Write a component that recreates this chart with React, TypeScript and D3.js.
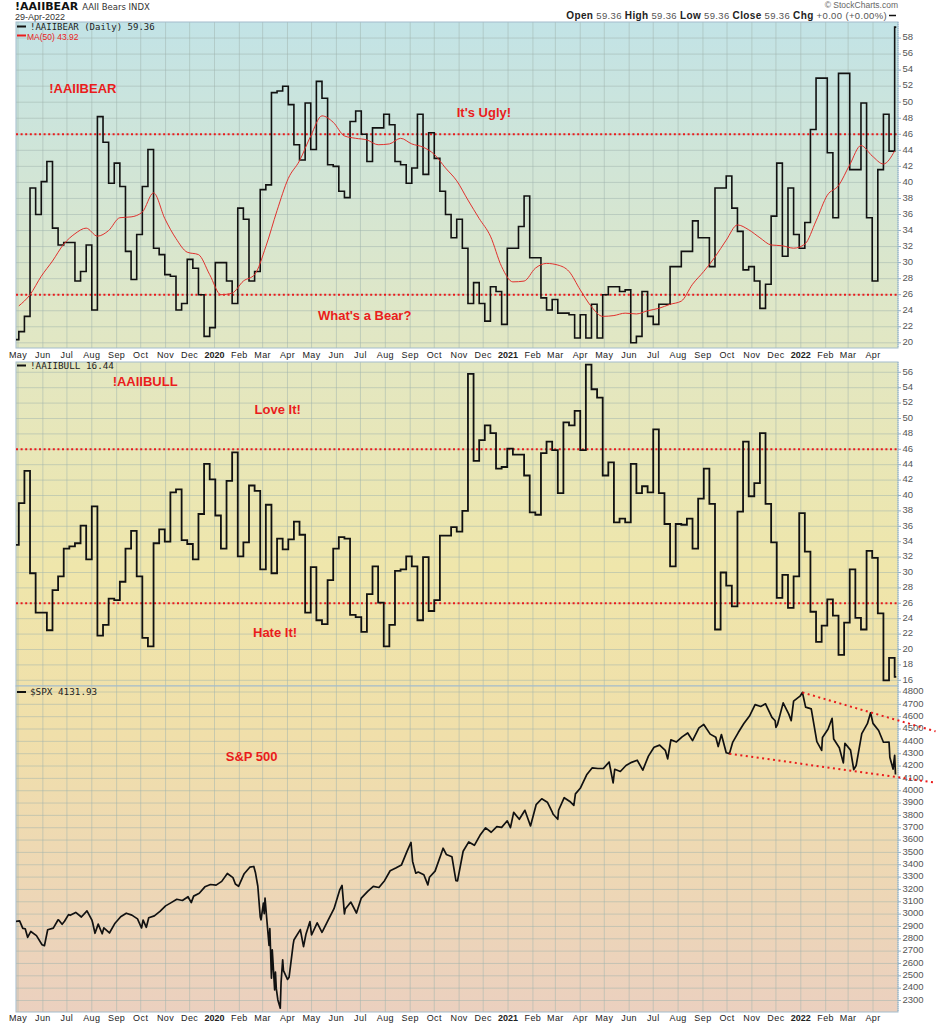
import React from "react";
import * as d3 from "d3";

// ---------- DATA ----------
// AAII weekly readings (Thursdays) starting 25-Apr-2019
const aaiiStart = "2019-04-25";
const bearValues = [20.4,
  21.4, 23.3, 39.3, 36, 40.1, 42.6, 34.3, 32.2, 32.5, 32.5, 27.7, 28.9, 32.2, 24.1, 48.2, 45, 39.9, 42.4, 39.5, 31.4,
  27.9, 33.5, 39.5, 44.1, 31.8, 31, 28.5, 28.3, 24.1, 24.9, 30.4, 29.3, 26, 20.8, 21.9, 30, 30, 27.7, 24.9, 36.8,
  35.4, 27.7, 28.9, 39.1, 39.7, 51.2, 51.4, 52, 49.7, 44.7, 42.8, 49.9, 44.1, 52.6, 50.5, 42.2, 42, 38.9, 38.1, 47.6,
  48.9, 46, 42.6, 46.8, 46.8, 48.5, 47.2, 42.6, 42.2, 39.9, 41.8, 48.5, 41, 46.2, 43, 38.9, 36, 33.1, 35.4, 31.8,
  24.9, 27.5, 24.9, 22.7, 27, 26.4, 22.3, 31.8, 31.8, 34.5, 38.3, 30.6, 30.6, 25.6, 24.1, 25.4, 23.7, 23.7, 23.5, 20.6,
  23.5, 20.6, 24.8, 20.6, 26, 27, 27, 26.4, 26.6, 20, 20.8, 26.4, 23.3, 22.3, 24.8, 24.8, 29.5, 29.5, 31.4, 31.4,
  35.2, 33.1, 33.1, 29.5, 39.3, 39.3, 40.8, 36.8, 33.9, 29.1, 29.5, 27.7, 24.3, 27.3, 35.8, 42.4, 30.8, 39.3, 33.5, 31.8,
  35, 46.6, 53, 53, 43.7, 35.6, 53.6, 53.6, 41.6, 41.6, 49.9, 35.6, 27.7, 41.6, 48.5, 43.9, 59.36];

const bullValues = [33.6,
  39, 43.2, 29.9, 24.8, 24.8, 22.5, 27.7, 29.5, 33.1, 33.4, 33.8, 36.1, 31.7, 38.6, 21.8, 23.2, 26.6, 26.4, 28.8, 33.1,
  35.4, 29.5, 21.5, 20.4, 33.8, 35.6, 34, 40.4, 40.8, 34.2, 33.7, 31.7, 37.6, 44.1, 42.1, 37.4, 33.1, 41.9, 45.6, 32.1,
  33.9, 41.3, 40.6, 30.4, 38.8, 29.9, 34.4, 33, 34.3, 36.6, 34.9, 24.8, 30.7, 23.8, 23.3, 29, 33.1, 34.6, 34.4, 24.5,
  24.2, 22.3, 27.2, 30.8, 26.1, 20.4, 23.2, 30.2, 30.4, 32.1, 30.8, 23.8, 32, 25, 26.4, 34.8, 34.8, 35.9, 35.3, 38,
  55.8, 44.5, 47.2, 49.1, 48.1, 43.5, 43.7, 46.1, 45.3, 45.3, 42.6, 37.8, 37.5, 45.5, 47, 45.9, 40.3, 49.5, 49.1, 51,
  45.9, 57, 53.8, 52.7, 42.6, 44.3, 36.5, 37, 36.5, 44.1, 40.3, 41.2, 40.4, 48.6, 40.3, 36.3, 30.8, 36.3, 36.2, 37,
  33.1, 39.6, 43.5, 38.9, 22.6, 30, 28.3, 25.6, 37.9, 47, 39.9, 41.6, 48.1, 38.9, 33.9, 26.7, 29.7, 25.4, 29.5, 37.7,
  32.7, 24.9, 21, 23.1, 26.5, 24.4, 19.3, 23.5, 30.4, 24.1, 22.6, 32.8, 31.9, 24.7, 16, 18.9, 16.44];

// MA(50) of the bear series, read every two weeks starting 02-May-2019
const maStart = "2019-05-02";
const bearMA50 = [24.6, 26, 28.3, 30.2, 32.3, 33.6, 34.3, 33.3, 34, 35.6, 35.7, 36.3, 38.7, 35.5, 33, 31.3, 31, 28.5,
  26, 26.2, 27.7, 28.5, 32, 36.5, 40.5, 42.7, 45.8, 48.3, 47.5, 45.8, 45.5, 45.3, 44.7, 44.8, 45.5, 44.8, 44.4, 43.5,
  41.8, 40.2, 37.8, 35.5, 33.3, 29.5, 27.6, 27.7, 29.3, 29.9, 29.7, 28.9, 26.6, 24.5, 23.3, 23.4, 23.7, 23.6, 24, 24.3,
  24.8, 25.2, 27.3, 28.9, 30.7, 32.8, 34.7, 34.1, 33.1, 32.2, 32.1, 31.8, 32.3, 35.2, 38.4, 39.6, 42.2, 44.6, 43.3, 42.3, 43.92];

// S&P 500 closes
const spx: [string, number][] = [
  ["2019-04-26", 2939.9], ["2019-05-03", 2945.6], ["2019-05-07", 2884.1], ["2019-05-10", 2881.4], ["2019-05-13", 2811.9],
  ["2019-05-17", 2859.5], ["2019-05-24", 2826.1], ["2019-05-31", 2752.1], ["2019-06-03", 2744.5], ["2019-06-07", 2873.3],
  ["2019-06-14", 2887.0], ["2019-06-20", 2954.2], ["2019-06-21", 2950.5], ["2019-06-25", 2917.4], ["2019-06-28", 2941.8],
  ["2019-07-03", 2995.8], ["2019-07-05", 2990.4], ["2019-07-12", 3013.8], ["2019-07-19", 2976.6], ["2019-07-26", 3025.9],
  ["2019-08-01", 2953.6], ["2019-08-02", 2932.1], ["2019-08-05", 2844.7], ["2019-08-09", 2918.7], ["2019-08-14", 2840.6],
  ["2019-08-16", 2888.7], ["2019-08-23", 2847.1], ["2019-08-30", 2926.5], ["2019-09-06", 2978.7], ["2019-09-13", 3007.4],
  ["2019-09-20", 2992.1], ["2019-09-27", 2961.8], ["2019-10-02", 2887.6], ["2019-10-04", 2952.0], ["2019-10-08", 2893.1],
  ["2019-10-11", 2970.3], ["2019-10-18", 2986.2], ["2019-10-25", 3022.6], ["2019-11-01", 3066.9], ["2019-11-08", 3093.1],
  ["2019-11-15", 3120.5], ["2019-11-22", 3110.3], ["2019-11-29", 3141.0], ["2019-12-03", 3093.2], ["2019-12-06", 3145.9],
  ["2019-12-13", 3168.8], ["2019-12-20", 3221.2], ["2019-12-27", 3240.0], ["2020-01-03", 3234.9], ["2020-01-10", 3265.4],
  ["2020-01-17", 3329.6], ["2020-01-24", 3295.5], ["2020-01-27", 3243.6], ["2020-01-31", 3225.5], ["2020-02-07", 3327.7],
  ["2020-02-14", 3380.2], ["2020-02-19", 3386.2], ["2020-02-21", 3337.8], ["2020-02-24", 3225.9], ["2020-02-27", 2978.8],
  ["2020-02-28", 2954.2], ["2020-03-02", 3090.2], ["2020-03-03", 3003.4], ["2020-03-04", 3130.1], ["2020-03-06", 2972.4],
  ["2020-03-09", 2746.6], ["2020-03-10", 2882.2], ["2020-03-12", 2480.6], ["2020-03-13", 2711.0], ["2020-03-16", 2386.1],
  ["2020-03-17", 2529.2], ["2020-03-18", 2398.1], ["2020-03-20", 2304.9], ["2020-03-23", 2237.4], ["2020-03-24", 2447.3],
  ["2020-03-26", 2630.1], ["2020-03-27", 2541.5], ["2020-04-01", 2470.5], ["2020-04-03", 2488.7], ["2020-04-08", 2750.0],
  ["2020-04-09", 2789.8], ["2020-04-17", 2874.6], ["2020-04-21", 2736.6], ["2020-04-24", 2836.7], ["2020-04-29", 2939.5],
  ["2020-05-01", 2830.7], ["2020-05-08", 2929.8], ["2020-05-14", 2852.5], ["2020-05-15", 2863.7], ["2020-05-22", 2955.5],
  ["2020-05-29", 3044.3], ["2020-06-05", 3193.9], ["2020-06-08", 3232.4], ["2020-06-11", 3002.1], ["2020-06-12", 3041.3],
  ["2020-06-19", 3097.7], ["2020-06-26", 3009.1], ["2020-07-02", 3130.0], ["2020-07-10", 3185.0], ["2020-07-17", 3224.7],
  ["2020-07-24", 3215.6], ["2020-07-31", 3271.1], ["2020-08-07", 3351.3], ["2020-08-14", 3372.9], ["2020-08-21", 3397.2],
  ["2020-08-28", 3508.0], ["2020-09-02", 3580.8], ["2020-09-04", 3427.0], ["2020-09-08", 3331.8], ["2020-09-11", 3341.0],
  ["2020-09-18", 3319.5], ["2020-09-23", 3236.9], ["2020-09-25", 3298.5], ["2020-10-02", 3348.4], ["2020-10-09", 3477.1],
  ["2020-10-12", 3534.2], ["2020-10-16", 3483.8], ["2020-10-23", 3465.4], ["2020-10-28", 3271.0], ["2020-10-30", 3270.0],
  ["2020-11-06", 3509.4], ["2020-11-13", 3585.2], ["2020-11-20", 3557.5], ["2020-11-27", 3638.4], ["2020-12-04", 3699.1],
  ["2020-12-11", 3663.5], ["2020-12-18", 3709.4], ["2020-12-24", 3703.1], ["2020-12-31", 3756.1], ["2021-01-04", 3700.7],
  ["2021-01-08", 3824.7], ["2021-01-15", 3768.3], ["2021-01-22", 3841.5], ["2021-01-27", 3750.8], ["2021-01-29", 3714.2],
  ["2021-02-05", 3886.8], ["2021-02-12", 3934.8], ["2021-02-19", 3906.7], ["2021-02-25", 3829.3], ["2021-02-26", 3811.2],
  ["2021-03-04", 3768.5], ["2021-03-05", 3841.9], ["2021-03-12", 3943.3], ["2021-03-19", 3913.1], ["2021-03-24", 3881.4],
  ["2021-03-26", 3974.5], ["2021-04-01", 4019.9], ["2021-04-09", 4128.8], ["2021-04-16", 4185.5], ["2021-04-23", 4180.2],
  ["2021-04-30", 4181.2], ["2021-05-07", 4232.6], ["2021-05-12", 4063.0], ["2021-05-14", 4173.9], ["2021-05-21", 4155.9],
  ["2021-05-28", 4204.1], ["2021-06-04", 4229.9], ["2021-06-11", 4247.4], ["2021-06-18", 4166.5], ["2021-06-25", 4280.7],
  ["2021-07-02", 4352.3], ["2021-07-09", 4369.6], ["2021-07-16", 4327.2], ["2021-07-19", 4258.5], ["2021-07-23", 4411.8],
  ["2021-07-30", 4395.3], ["2021-08-06", 4436.5], ["2021-08-13", 4468.0], ["2021-08-19", 4405.8], ["2021-08-27", 4509.4],
  ["2021-09-02", 4537.0], ["2021-09-10", 4458.6], ["2021-09-17", 4433.0], ["2021-09-20", 4358.0], ["2021-09-24", 4455.5],
  ["2021-09-30", 4307.5], ["2021-10-04", 4300.5], ["2021-10-08", 4391.3], ["2021-10-15", 4471.4], ["2021-10-22", 4544.9],
  ["2021-10-29", 4605.4], ["2021-11-05", 4697.5], ["2021-11-12", 4682.9], ["2021-11-18", 4704.5], ["2021-11-26", 4594.6],
  ["2021-11-30", 4567.0], ["2021-12-01", 4513.0], ["2021-12-03", 4538.4], ["2021-12-10", 4712.0], ["2021-12-17", 4620.6],
  ["2021-12-20", 4568.0], ["2021-12-23", 4725.8], ["2021-12-31", 4766.2], ["2022-01-03", 4796.6], ["2022-01-07", 4677.0],
  ["2022-01-14", 4662.9], ["2022-01-21", 4397.9], ["2022-01-27", 4326.5], ["2022-01-28", 4431.9], ["2022-02-04", 4500.5],
  ["2022-02-09", 4587.2], ["2022-02-11", 4418.6], ["2022-02-18", 4348.9], ["2022-02-23", 4225.5], ["2022-02-25", 4384.7],
  ["2022-03-04", 4328.9], ["2022-03-08", 4170.7], ["2022-03-11", 4204.3], ["2022-03-18", 4463.1], ["2022-03-25", 4543.1],
  ["2022-03-29", 4631.6], ["2022-04-01", 4545.9], ["2022-04-08", 4488.3], ["2022-04-14", 4392.6], ["2022-04-21", 4393.7],
  ["2022-04-22", 4271.8], ["2022-04-26", 4175.2], ["2022-04-28", 4287.5], ["2022-04-29", 4131.93]];

// Trend lines drawn on the S&P panel (date, value)
const spxTrendUpper: [string, number][] = [["2022-01-03", 4796], ["2022-06-18", 4481]];
const spxTrendLower: [string, number][] = [["2021-10-04", 4300], ["2022-06-16", 4068]];

// Threshold levels
const sentimentLevels = [46, 26];

// Annotations (label, date, value)
const bearNotes: [string, string, number][] = [
  ["!AAIIBEAR", "2019-06-09", 51.15], ["It's Ugly!", "2020-10-29", 48.1], ["What's a Bear?", "2020-05-09", 22.9]];
const bullNotes: [string, string, number][] = [
  ["!AAIIBULL", "2019-08-27", 54.2], ["Love It!", "2020-02-20", 50.6], ["Hate It!", "2020-02-18", 21.6]];
const spxNotes: [string, string, number][] = [["S&P 500", "2020-01-15", 4241]];

const bearTicks = d3.range(20, 59, 2);
const bullTicks = d3.range(16, 57, 2);
const spxTicks = d3.range(2300, 4801, 100);

const lastBear = 59.36, lastMA = 43.92, lastBull = 16.44, lastSpx = 4131.93;
const chartEnd = "2022-04-30";

// ---------- LAYOUT ----------
const W = 940, H = 1024;
const L = 16, R = 898;
const P1 = { top: 22, bottom: 348 };
const P2 = { top: 362, bottom: 686 };
const P3 = { top: 686, bottom: 1012 };
const FONT = "'Liberation Sans', Arial, sans-serif";
const MONO = "'DejaVu Sans Mono', monospace";
const RED = "#ea1c1c";

const parse = d3.timeParse("%Y-%m-%d");

export default function App() {
  const x = d3.scaleTime().domain([new Date(2019, 4, 1), new Date(2022, 3, 1)]).range([18, 873]);
  const yBear = d3.scaleLinear().domain([26, 46]).range([294.7, 134.3]);
  const yBull = d3.scaleLinear().domain([26, 46]).range([603.3, 449.3]);
  const ySpx = d3.scaleLinear().domain([2300, 4800]).range([1000.5, 692]);

  const start = parse(aaiiStart)!;
  const weekDates = bearValues.map((_, i) => d3.timeDay.offset(start, 7 * i));
  const endDate = parse(chartEnd)!;
  const bearPts: [Date, number][] = [...bearValues.map((v, i) => [weekDates[i], v] as [Date, number]), [endDate, lastBear]];
  const bullPts: [Date, number][] = [...bullValues.map((v, i) => [weekDates[i], v] as [Date, number]), [endDate, lastBull]];
  const maS = parse(maStart)!;
  const maPts: [Date, number][] = bearMA50.map((v, i) => [d3.timeDay.offset(maS, 14 * i), v]);
  const spxPts: [Date, number][] = spx.map(([d, v]) => [parse(d)!, v]);

  const stepLine = (ys: d3.ScaleLinear<number, number>) =>
    d3.line<[Date, number]>().x(d => x(d[0])).y(d => ys(d[1])).curve(d3.curveStepAfter);
  const smoothLine = (ys: d3.ScaleLinear<number, number>) =>
    d3.line<[Date, number]>().x(d => x(d[0])).y(d => ys(d[1])).curve(d3.curveMonotoneX);
  const plainLine = (ys: d3.ScaleLinear<number, number>) =>
    d3.line<[Date, number]>().x(d => x(d[0])).y(d => ys(d[1]));

  const months = d3.timeMonth.range(new Date(2019, 4, 1), new Date(2022, 4, 1));
  const monthLabel = (d: Date) => (d.getMonth() === 0 ? d3.timeFormat("%Y")(d) : d3.timeFormat("%b")(d));

  const panels = [
    { id: "p1", ...P1, ys: yBear, ticks: bearTicks },
    { id: "p2", ...P2, ys: yBull, ticks: bullTicks },
    { id: "p3", ...P3, ys: ySpx, ticks: spxTicks },
  ];

  const xAxisLabels = (yBase: number) =>
    months.map((m, i) => (
      <text key={i} x={x(m)} y={yBase} textAnchor="middle" fontFamily={FONT} fontSize={9}
        fontWeight={m.getMonth() === 0 ? "bold" : "normal"} fill="#222" letterSpacing={m.getMonth() === 0 ? 0 : 0.4}>
        {monthLabel(m)}
      </text>
    ));

  const legendDash = (y: number, color: string) => (
    <line x1={17} x2={26} y1={y} y2={y} stroke={color} strokeWidth={2} />
  );

  return (
    <svg width={W} height={H} style={{ position: "absolute", left: 0, top: 0, display: "block" }}
      xmlns="http://www.w3.org/2000/svg">
      <defs>
        <linearGradient id="bg" gradientUnits="userSpaceOnUse" x1={0} y1={P1.top} x2={0} y2={P3.bottom}>
          <stop offset="0" stopColor="#c2e3e6" />
          <stop offset="0.3" stopColor="#e0e7c6" />
          <stop offset="0.55" stopColor="#efe6ab" />
          <stop offset="0.72" stopColor="#f0dfaa" />
          <stop offset="1" stopColor="#ebd0bf" />
        </linearGradient>
        {panels.map(p => (
          <clipPath key={p.id} id={`clip-${p.id}`}>
            <rect x={L} y={p.top} width={R - L} height={p.bottom - p.top} />
          </clipPath>
        ))}
      </defs>
      <rect x={0} y={0} width={W} height={H} fill="#fff" />

      {/* header */}
      <text x={15} y={10} fontFamily="'DejaVu Sans', sans-serif" fontSize={11} fontWeight="bold" fill="#111">
        !AAIIBEAR
        <tspan fontSize={8.5} fontWeight="normal" dx={4} fill="#333">AAII Bears INDX</tspan>
      </text>
      <text x={15} y={19.5} fontFamily={FONT} fontSize={9} fill="#333">29-Apr-2022</text>
      <text x={898} y={8} textAnchor="end" fontFamily={FONT} fontSize={8.5} fill="#666">© StockCharts.com</text>
      <text x={887} y={18.5} textAnchor="end" fontFamily={FONT} fontSize={10} fill="#222" letterSpacing={0.35}>
        <tspan fontWeight="bold">Open</tspan><tspan fill="#555" fontSize={9.5}> {lastBear.toFixed(2)} </tspan>
        <tspan fontWeight="bold"> High</tspan><tspan fill="#555" fontSize={9.5}> {lastBear.toFixed(2)} </tspan>
        <tspan fontWeight="bold"> Low</tspan><tspan fill="#555" fontSize={9.5}> {lastBear.toFixed(2)} </tspan>
        <tspan fontWeight="bold"> Close</tspan><tspan fill="#555" fontSize={9.5}> {lastBear.toFixed(2)} </tspan>
        <tspan fontWeight="bold"> Chg</tspan><tspan fill="#555" fontSize={9.5}> +0.00 (+0.00%)</tspan>
      </text>
      <line x1={889} x2={896} y1={15.5} y2={15.5} stroke="#111" strokeWidth={1.5} />

      {/* panels */}
      {panels.map(p => (
        <g key={p.id}>
          <rect x={L} y={p.top} width={R - L} height={p.bottom - p.top} fill="url(#bg)" />
          <g clipPath={`url(#clip-${p.id})`} stroke="#9fb3ae" strokeOpacity={0.5} strokeWidth={1}>
            {months.map((m, i) => (
              <line key={i} x1={x(m)} x2={x(m)} y1={p.top} y2={p.bottom} />
            ))}
            {p.ticks.map(t => (
              <line key={t} x1={L} x2={R} y1={p.ys(t)} y2={p.ys(t)} />
            ))}
          </g>
          <rect x={L} y={p.top} width={R - L} height={p.bottom - p.top} fill="none" stroke="#a3bccb" strokeWidth={1} />
          <line x1={R} x2={R} y1={p.top} y2={p.bottom} stroke="#8fb1c8" strokeWidth={1} strokeDasharray="1 1" />
          {p.ticks.map(t => (
            <g key={t}>
              <line x1={R} x2={R + 3} y1={p.ys(t)} y2={p.ys(t)} stroke="#8fb1c8" strokeWidth={1} />
              <text x={R + 4.5} y={p.ys(t) + 2.3} fontFamily={FONT} fontSize={9.5} fill="#555">{t}</text>
            </g>
          ))}
        </g>
      ))}

      {/* x axis labels */}
      {xAxisLabels(358)}
      {xAxisLabels(1021)}

      {/* Panel 1 : bears */}
      <g clipPath="url(#clip-p1)">
        {sentimentLevels.map(l => (
          <line key={l} x1={L} x2={R} y1={yBear(l)} y2={yBear(l)} stroke={RED} strokeWidth={2} strokeDasharray="2 2.6" />
        ))}
        <path d={stepLine(yBear)(bearPts)!} fill="none" stroke="#111" strokeWidth={1.6} strokeLinejoin="miter" />
        <path d={smoothLine(yBear)(maPts)!} fill="none" stroke="#e0312e" strokeWidth={1} />
        {bearNotes.map(([t, d, v]) => (
          <text key={t} x={x(parse(d)!)} y={yBear(v)} fontFamily={FONT} fontSize={13} fontWeight="bold" fill={RED}>{t}</text>
        ))}
      </g>
      {legendDash(26.5, "#111")}
      <text x={30} y={29.5} fontFamily={MONO} fontSize={9} fill="#222">!AAIIBEAR (Daily) {lastBear.toFixed(2)}</text>
      {legendDash(35.5, RED)}
      <text x={27} y={39.5} fontFamily={FONT} fontSize={8.5} fill={RED}>MA(50) {lastMA.toFixed(2)}</text>

      {/* Panel 2 : bulls */}
      <g clipPath="url(#clip-p2)">
        {sentimentLevels.map(l => (
          <line key={l} x1={L} x2={R} y1={yBull(l)} y2={yBull(l)} stroke={RED} strokeWidth={2} strokeDasharray="2 2.6" />
        ))}
        <path d={stepLine(yBull)(bullPts)!} fill="none" stroke="#111" strokeWidth={1.8} />
        {bullNotes.map(([t, d, v]) => (
          <text key={t} x={x(parse(d)!)} y={yBull(v)} fontFamily={FONT} fontSize={13} fontWeight="bold" fill={RED}>{t}</text>
        ))}
      </g>
      {legendDash(365.5, "#111")}
      <text x={30} y={368.5} fontFamily={MONO} fontSize={9.3} fill="#222">!AAIIBULL {lastBull.toFixed(2)}</text>

      {/* Panel 3 : S&P 500 */}
      <g clipPath="url(#clip-p3)">
        <path d={plainLine(ySpx)(spxPts)!} fill="none" stroke="#111" strokeWidth={1.7} strokeLinejoin="round" />
        {spxNotes.map(([t, d, v]) => (
          <text key={t} x={x(parse(d)!)} y={ySpx(v)} fontFamily={FONT} fontSize={13} fontWeight="bold" fill={RED}>{t}</text>
        ))}
      </g>
      {[spxTrendUpper, spxTrendLower].map((tl, i) => (
        <path key={i} d={plainLine(ySpx)(tl.map(([d, v]) => [parse(d)!, v] as [Date, number]))!}
          fill="none" stroke={RED} strokeWidth={2} strokeDasharray="2 3.5" />
      ))}
      {legendDash(692, "#111")}
      <text x={30} y={695} fontFamily={MONO} fontSize={9.3} fill="#222">$SPX {lastSpx.toFixed(2)}</text>
    </svg>
  );
}
